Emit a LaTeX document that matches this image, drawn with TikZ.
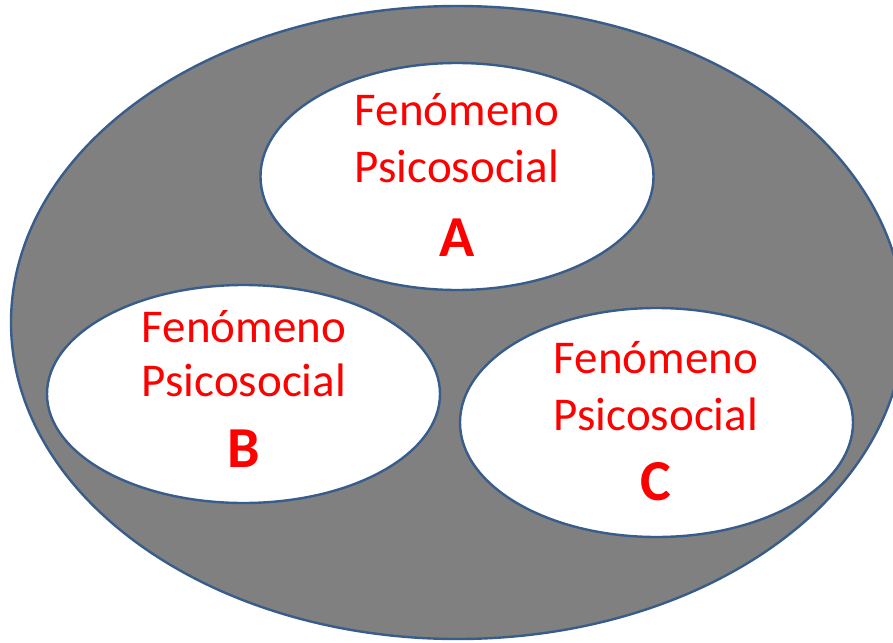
\documentclass[tikz,border=0pt]{standalone}
\usepackage{fontspec}
\setmainfont{Carlito}
\usetikzlibrary{shapes.geometric}
\definecolor{edge}{RGB}{56,93,138}
\definecolor{fillgray}{RGB}{128,128,128}
\definecolor{txtred}{RGB}{255,0,0}
\tikzset{
  outer/.style={draw=edge, line width=2.4pt, fill=fillgray},
  inner/.style={draw=edge, line width=2.4pt, fill=white},
  lbl/.style={text=txtred, font=\fontsize{47}{56}\selectfont, anchor=base, inner sep=0pt},
  big/.style={text=txtred, font=\fontsize{58}{64}\selectfont\bfseries, anchor=base, inner sep=0pt}
}
\begin{document}
\begin{tikzpicture}[x=1pt,y=-1pt]
\useasboundingbox (0,0) rectangle (893,642);
\draw[outer] (457.5,322.5) ellipse [x radius=446.5, y radius=316.5];
\draw[inner] (457,176.5) ellipse [x radius=196.5, y radius=113.5];
\draw[inner] (243.5,394) ellipse [x radius=196.5, y radius=109];
\draw[inner] (656.5,422.5) ellipse [x radius=196.5, y radius=114.5];
% A
\node[lbl] (a1) at (457,125) {Fenómeno};
\node[lbl] (a2) at (457,182) {Psicosocial};
\node[big] (a3) at (457,256) {A};
% B
\node[lbl] (b1) at (244,342) {Fenómeno};
\node[lbl] (b2) at (244,396) {Psicosocial};
\node[big] (b3) at (244,467) {B};
% C
\node[lbl] (c1) at (656,373) {Fenómeno};
\node[lbl] (c2) at (656,430) {Psicosocial};
\node[big] (c3) at (656,500) {C};
\end{tikzpicture}
\end{document}
